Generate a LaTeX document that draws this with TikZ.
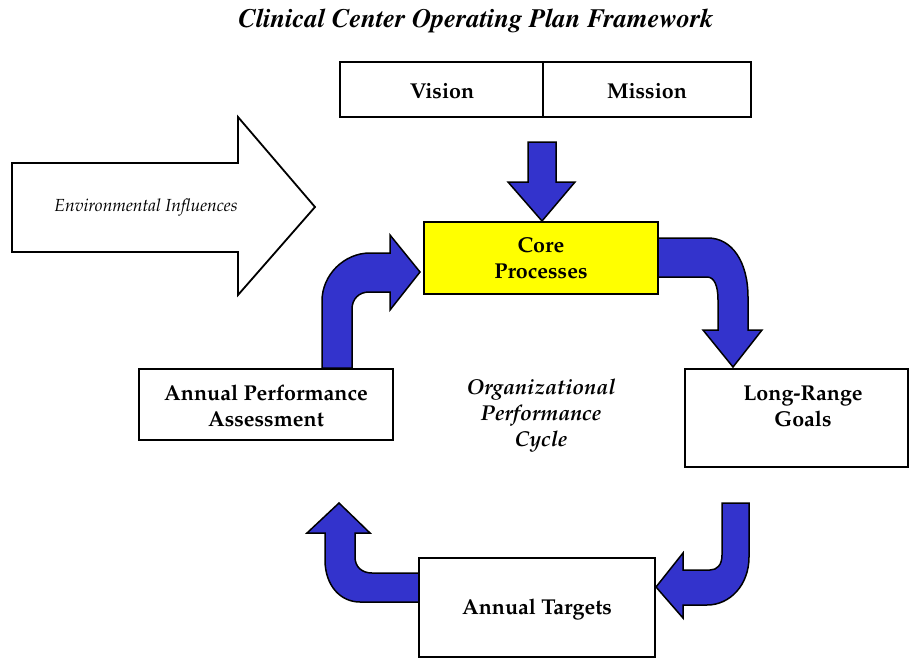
\documentclass[tikz,border=0pt]{standalone}
\usepackage[T1]{fontenc}
\newcommand{\palf}{\fontfamily{ppl}\selectfont}
\newcommand{\timf}{\fontfamily{ptm}\selectfont}
\definecolor{arrblue}{RGB}{51,51,204}
\definecolor{coreyellow}{RGB}{255,255,0}
\tikzset{
  boxline/.style={draw=black, line width=1.8pt},
  blockarrow/.style={draw=black, line width=1.5pt, fill=arrblue, line join=miter},
  boxtext/.style={font=\palf\bfseries\fontsize{21.5}{26}\selectfont, align=center, inner sep=0pt},
}
\begin{document}
\begin{tikzpicture}[x=1pt,y=-1pt]
\useasboundingbox (0,0) rectangle (910,659);

% title
\node[font=\timf\bfseries\itshape\fontsize{26.5}{30}\selectfont, inner sep=0pt] (title) at (476,21) {Clinical Center Operating Plan Framework};

% environmental influences arrow
\draw[boxline, fill=white] (12,163) -- (238,163) -- (238,117) -- (315,207) -- (238,295) -- (238,252) -- (12,252) -- cycle;
\node[font=\palf\itshape\fontsize{17.5}{20}\selectfont, inner sep=0pt] (env) at (146,208) {Environmental Influences};

% vision / mission
\draw[boxline] (340,62) rectangle (751,117);
\draw[boxline] (543,62) -- (543,117);
\node[boxtext] (vision) at (442,91) {Vision};
\node[boxtext] (mission) at (647,91) {Mission};

% down arrow
\draw[blockarrow] (528,142) -- (556,142) -- (556,182) -- (575,182) -- (542,221) -- (508,182) -- (528,182) -- cycle;

% curved arrows
\draw[blockarrow] (322,368) -- (322,301) .. controls (322,275) and (344,253) .. (370,253) -- (390,253) -- (390,235) -- (420,272) -- (390,310) -- (390,292) -- (369,292) .. controls (359,292) and (352,299) .. (352,309) -- (352,368) -- cycle;

\draw[blockarrow] (656,238) -- (708,238) .. controls (732,238) and (748,262) .. (748,297) -- (748,330) -- (762,330) -- (733,367) -- (703,330) -- (718,330) -- (718,300) .. controls (718,285) and (714,277) .. (707,277) -- (656,277) -- cycle;

\draw[blockarrow] (722,503) -- (749,503) -- (749,557) .. controls (749,585) and (730,605) .. (707,605) -- (683,605) -- (683,618) -- (656,587) -- (683,553) -- (683,570) -- (710,570) .. controls (717,570) and (722,565) .. (722,555) -- cycle;

\draw[blockarrow] (420,573) -- (372,573) .. controls (362,573) and (355,567) .. (355,557) -- (355,533) -- (370,533) -- (339,503) -- (307,533) -- (325,533) -- (325,560) .. controls (325,585) and (340,602) .. (360,602) -- (420,602) -- cycle;

% core processes
\draw[boxline, fill=coreyellow] (424,222) rectangle (658,294);
\node[boxtext] (core) at (541,258) {Core\\Processes};

% annual performance assessment
\draw[boxline, fill=white] (139,369) rectangle (393,440);
\node[boxtext] (apa) at (266,406) {Annual Performance\\Assessment};

% long-range goals
\draw[boxline, fill=white] (685,369) rectangle (908,467);
\node[boxtext] (lrg) at (803,406) {Long-Range\\Goals};

% annual targets
\draw[boxline, fill=white] (419,558) rectangle (655,657);
\node[boxtext] (at) at (537,609) {Annual Targets};

% center text
\node[font=\palf\bfseries\itshape\fontsize{21.5}{26}\selectfont, align=center, inner sep=0pt] (cycle) at (541,416) {Organizational\\Performance\\Cycle};
\end{tikzpicture}
\end{document}
